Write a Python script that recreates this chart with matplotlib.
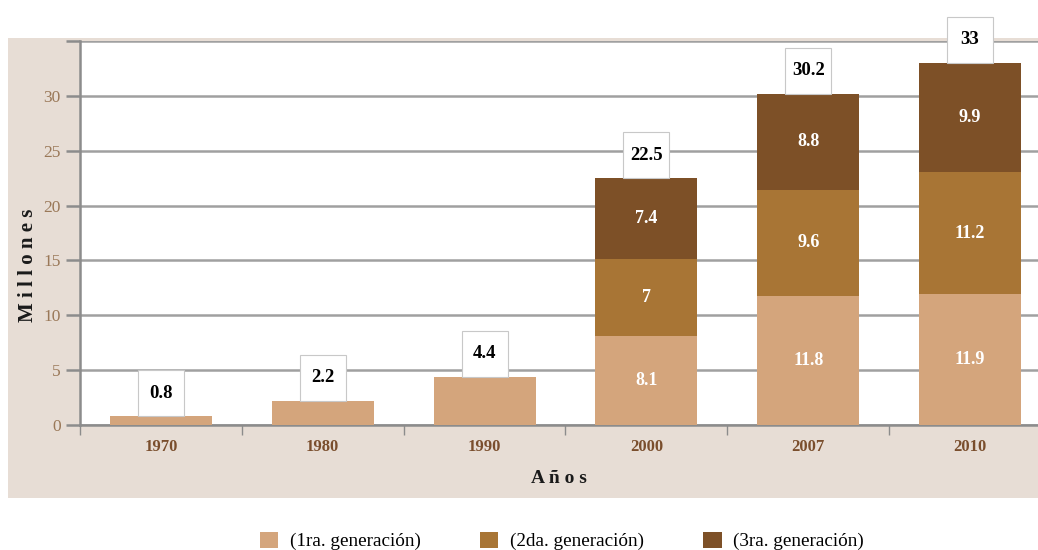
import matplotlib
matplotlib.use("Agg")
import matplotlib.pyplot as plt
from matplotlib.patches import Rectangle, Patch
import numpy as np

plt.rcParams['font.family'] = ['Liberation Serif', 'DejaVu Serif']

years = ["1970", "1980", "1990", "2000", "2007", "2010"]
gen1 = [0.8, 2.2, 4.4, 8.1, 11.8, 11.9]
gen2 = [0.0, 0.0, 0.0, 7.0, 9.6, 11.2]
gen3 = [0.0, 0.0, 0.0, 7.4, 8.8, 9.9]
totals = [0.8, 2.2, 4.4, 22.5, 30.2, 33]
series_names = ["(1ra. generación)", "(2da. generación)", "(3ra. generación)"]
colors = ["#D4A57C", "#A87535", "#7D5027"]

W, H = 1038, 550
fig = plt.figure(figsize=(W / 100, H / 100), dpi=100)
fig.patch.set_facecolor("white")

# beige panel behind the plot
panel = Rectangle((8 / W, (H - 498) / H), 1 - 8 / W, (498 - 38) / H,
                  transform=fig.transFigure, facecolor="#E7DDD5",
                  edgecolor="none", zorder=-10)
fig.patches.append(panel)

ax = fig.add_axes([80 / W, (H - 425) / H, (W - 80) / W, 384 / H])
ax.set_facecolor("white")

x = np.arange(len(years))
width = 0.63
bottoms = np.zeros(len(years))
for vals, c in zip([gen1, gen2, gen3], colors):
    vals = np.array(vals)
    ax.bar(x, vals, width, bottom=bottoms, color=c, zorder=3)
    for xi, v, b in zip(x, vals, bottoms):
        if v > 0 and xi >= 3:
            ax.text(xi, b + v / 2, f"{v:g}", ha="center", va="center",
                    color="white", fontsize=13, fontweight="bold", zorder=5)
    bottoms = bottoms + vals

# total boxes on top of each bar
bw, bh = 0.285, 4.2
for xi, t in zip(x, totals):
    ax.add_patch(Rectangle((xi - bw / 2, t), bw, bh, facecolor="white",
                           edgecolor="#C8C8C8", linewidth=0.8, zorder=4,
                           clip_on=False))
    ax.text(xi, t + bh / 2, f"{t:g}", ha="center", va="center",
            color="black", fontsize=13.5, fontweight="bold", zorder=5,
            clip_on=False)

ax.set_ylim(0, 35)
ax.set_xlim(-0.5, 5.42)
ax.set_yticks(range(0, 36, 5))
ax.set_yticklabels([str(v) for v in range(0, 31, 5)] + [""])
ax.yaxis.grid(True, color="#A0A0A0", linewidth=1.8, zorder=1)
ax.set_axisbelow(True)

for s in ["top", "right"]:
    ax.spines[s].set_visible(False)
ax.spines["left"].set_color("#8C8C8C")
ax.spines["left"].set_linewidth(1.8)
ax.spines["bottom"].set_color("#8C8C8C")
ax.spines["bottom"].set_linewidth(1.8)

ax.tick_params(axis="y", length=10, width=1.8, color="#8C8C8C",
               labelcolor="#9A7858", labelsize=12.5, pad=4)
ax.set_xticks(x)
ax.set_xticklabels(years, fontweight="bold", color="#7A4E2D", fontsize=12)
ax.tick_params(axis="x", length=0, pad=10)
ax.set_xticks(np.arange(-0.5, 5.5, 1.0), minor=True)
ax.tick_params(axis="x", which="minor", length=7, width=1.0,
               color="#8C8C8C", direction="out")

ax.set_ylabel("M i l l o n e s", fontsize=15, fontweight="bold",
              color="#1A1A1A")
ax.yaxis.set_label_coords(-42 / 958, (425 - 265) / 384)
ax.set_xlabel("A ñ o s", fontsize=14, fontweight="bold",
              color="#1A1A1A", labelpad=11)

handles = [Patch(facecolor=c, edgecolor="none") for c in colors]
fig.legend(handles, series_names, loc="center", ncol=3,
           bbox_to_anchor=(562 / W, (H - 541) / H), frameon=False,
           fontsize=13.8, handlelength=0.95, handleheight=0.95,
           columnspacing=3.1, handletextpad=0.6)

fig.savefig("out.png", dpi=100)
